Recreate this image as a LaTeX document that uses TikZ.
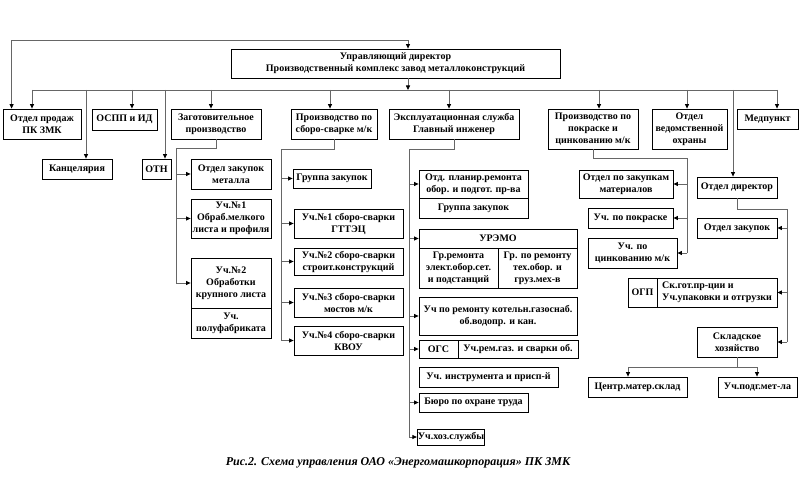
\documentclass[tikz,border=0pt]{standalone}
\usepackage{fontspec}
\setmainfont{Liberation Serif}
\usetikzlibrary{arrows.meta,calc}
\tikzset{
  box/.style={draw=black, line width=0.8pt, fill=white, inner xsep=0.5pt, inner ysep=1pt, align=center,
    font=\fontsize{10}{12}\selectfont\bfseries},
  conn/.style={draw=black!60, line width=0.8pt},
  arr/.style={conn, -{Triangle[length=4.5pt,width=4pt,color=black]}},
  dblarr/.style={conn, {Triangle[length=4.5pt,width=4pt,color=black]}-{Triangle[length=4.5pt,width=4pt,color=black]}},
  captxt/.style={font=\fontsize{12}{14}\selectfont\bfseries\itshape}
}
\newcommand\BX[7][]{\node[box,#1,minimum width={(#5-#3)*1pt},minimum height={(#6-#4)*1pt}] (#2) at ({(#3+#5)/2},{(#4+#6)/2}) {#7};}
\begin{document}
\begin{tikzpicture}[x=1pt,y=-1pt]
\useasboundingbox[fill=white] (0,0) rectangle (800,478);
% boxes
\BX{dir}{231}{49}{560}{78}{Управляющий директор\\Производственный комплекс завод металлоконструкций}
\BX{prod}{3}{109}{81}{139}{Отдел продаж\\ПК ЗМК}
\BX{kanc}{42}{159}{112}{179}{Канцелярия}
\BX{ospp}{92}{109}{157}{130}{ОСПП и ИД}
\BX{otn}{142}{159}{171}{179}{ОТН}
\BX{zag}{171}{109}{261}{139}{Заготовительное\\производство}
\BX{zm}{191}{159}{271}{189}{Отдел закупок\\металла}
\BX{u1}{191}{199}{271}{238}{Уч.№1\\Обраб.мелкого\\листа и профиля}
\BX{u2}{191}{258}{271}{308}{Уч.№2\\Обработки\\крупного листа}
\BX{upf}{191}{308}{271}{338}{Уч.\\полуфабриката}
\BX{ss}{291}{109}{377}{139}{Производство по\\сборо-сварке м/к}
\BX{gz1}{293}{169}{371}{188}{Группа закупок}
\BX{ss1}{294}{209}{403}{238}{Уч.№1 сборо-сварки\\ГТТЭЦ}
\BX{ss2}{294}{248}{403}{275}{Уч.№2 сборо-сварки\\строит.конструкций}
\BX{ss3}{294}{288}{403}{317}{Уч.№3 сборо-сварки\\мостов м/к}
\BX{ss4}{294}{326}{403}{355}{Уч.№4 сборо-сварки\\КВОУ}
\BX{ex}{389}{109}{519}{139}{Эксплуатационная служба\\Главный инженер}
\BX{op}{419}{170}{528}{198}{Отд. планир.ремонта\\обор. и подгот. пр-ва}
\BX{gz2}{419}{198}{528}{218}{Группа закупок}
\BX{urt}{419}{229}{577}{248}{УРЭМО}
\BX{gr1}{419}{248}{498}{288}{Гр.ремонта\\элект.обор.сет.\\и подстанций}
\BX{gr2}{498}{248}{577}{288}{Гр. по ремонту\\тех.обор. и\\груз.мех-в}
\BX{kot}{419}{297}{577}{335}{Уч по ремонту котельн.газоснаб.\\об.водопр. и кан.}
\BX{ogs}{419}{340}{458}{358}{ОГС}
\BX{ogs2}{458}{340}{578}{358}{Уч.рем.газ. и сварки об.}
\BX{instr}{419}{367}{558}{387}{Уч. инструмента и присп-й}
\BX{bur}{419}{393}{528}{412}{Бюро по охране труда}
\BX{hoz}{419}{429}{483}{445}{Уч.хоз.службы}
\BX{pk}{548}{109}{638}{149}{Производство по\\покраске и\\цинкованию м/к}
\BX{pzm}{579}{170}{673}{198}{Отдел по закупкам\\материалов}
\BX{upk}{588}{208}{673}{228}{Уч. по покраске}
\BX{uc}{588}{238}{677}{268}{Уч. по\\цинкованию м/к}
\BX{vo}{652}{109}{727}{149}{Отдел\\ведомственной\\охраны}
\BX{med}{737}{109}{798}{129}{Медпункт}
\BX{od}{697}{177}{777}{198}{Отдел директор}
\BX{oz}{697}{218}{777}{238}{Отдел закупок}
\BX{ogp}{628}{278}{657}{307}{ОГП}
\BX[align=left]{ogp2}{657}{278}{777}{307}{Ск.гот.пр-ции и\\Уч.упаковки и отгрузки}
\BX{skl}{697}{327}{777}{357}{Складское\\хозяйство}
\BX{cms}{588}{377}{687}{397}{Центр.матер.склад}
\BX{upm}{718}{377}{797}{397}{Уч.подг.мет-ла}
\node[captxt] (cap) at (398,463) {Рис.2. Схема управления ОАО «Энергомашкорпорация» ПК ЗМК};
% top loop
\coordinate (tr) at (408,40);
\draw[dblarr] ([xshift=9pt]prod.north west) |- (tr) -- (tr |- dir.north);
% bus
\coordinate (bprod) at (32,90);
\coordinate (bkanc) at (86,90);
\coordinate (bospp) at (132,90);
\coordinate (botn) at (165,90);
\coordinate (bzag) at (211,90);
\coordinate (bss) at (330,90);
\coordinate (bex) at (449,90);
\coordinate (bpk) at (599,90);
\coordinate (bvo) at (687,90);
\coordinate (bod) at (733,90);
\coordinate (bmed) at (777,90);
\coordinate (bdir) at (408,90);
\draw[conn] (bprod) -- (bmed);
\draw[arr] (bdir |- dir.south) -- (bdir);
\foreach \c/\n in {bprod/prod,bkanc/kanc,bospp/ospp,botn/otn,bzag/zag,bss/ss,bex/ex,bpk/pk,bvo/vo,bod/od,bmed/med}
  \draw[arr] (\c) -- (\c |- \n.north);
% Заготовительное
\coordinate (zs) at (176,148);
\draw[conn] (zag.south) |- (zs) -- (zs |- u2.west);
\foreach \n in {zm,u1,u2} \draw[arr] (zs |- \n.west) -- (\n.west);
% сборо-сварка
\coordinate (ssp) at (281,149);
\draw[conn] (ss.south) |- (ssp) -- (ssp |- ss4.west);
\foreach \n in {gz1,ss1,ss2,ss3,ss4} \draw[arr] (ssp |- \n.west) -- (\n.west);
% эксплуатационная служба
\coordinate (exs) at (409,149);
\draw[conn] (ex.south) |- (exs) -- (exs |- hoz.west);
\foreach \n in {op,urt,kot,ogs,bur,hoz} \draw[arr] (exs |- \n.west) -- (\n.west);
% покраска
\coordinate (pks) at (687,158);
\draw[conn] (pk.south) |- (pks) -- (pks |- uc.east);
\foreach \n in {pzm,upk,uc} \draw[arr] (pks |- \n.east) -- (\n.east);
% отдел директор
\coordinate (ods) at (787,209);
\draw[conn] (od.south) |- (ods) -- (ods |- skl.east);
\foreach \n in {oz,ogp2,skl} \draw[arr] (ods |- \n.east) -- (\n.east);
% складское
\coordinate (sk1) at (628,367);
\coordinate (sk2) at (757,367);
\draw[conn] (skl.south) -- (skl.south |- sk1);
\draw[conn] (sk1) -- (sk2);
\draw[arr] (sk1) -- (sk1 |- cms.north);
\draw[arr] (sk2) -- (sk2 |- upm.north);
\end{tikzpicture}
\end{document}
